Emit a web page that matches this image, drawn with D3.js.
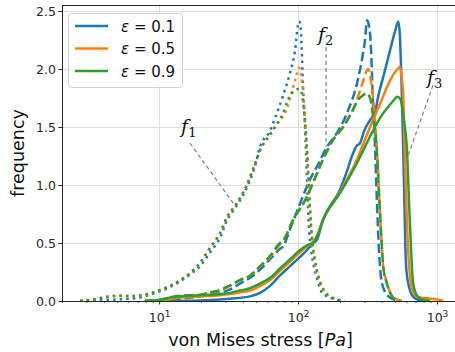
<!DOCTYPE html>
<html>
<head>
<meta charset="utf-8">
<script src="https://cdnjs.cloudflare.com/ajax/libs/d3/7.8.5/d3.min.js"></script>
<style>
  body { margin: 0; background: #fff; }
  svg { display: block; font-family: "DejaVu Sans", sans-serif; }
</style>
</head>
<body>
<svg id="chart" width="455" height="352"></svg>
<script>
// categories / ticks
const epsLabels = ["0.1", "0.5", "0.9"];
const colors = ["#1f77b4", "#ff7f0e", "#2ca02c"];
const yTicks = [0, 0.5, 1.0, 1.5, 2.0, 2.5];
const xTicks = [10, 100, 1000];
const xTickExp = ["1", "2", "3"];

// f1 (dotted) : [stress Pa, frequency]
const f1Eps01 = [[2.7,0],[3.2,0.005],[3.8,0.01],[4.4,0.01],[5.2,0.015],[6.2,0.02],[7.3,0.03],[8.6,0.055],[10.2,0.085],[12,0.12],[14.2,0.17],[16.7,0.23],[19.7,0.3],[23.3,0.42],[27.5,0.55],[30.9,0.7],[35.2,0.8],[42.8,0.98],[48.9,1.16],[53.3,1.33],[62.9,1.47],[68.4,1.58],[78,1.77],[87.6,1.97],[95.1,2.16],[99.9,2.38],[101.6,2.41],[104,2.39],[106,2.2],[108.6,1.85],[112.2,1.5],[116,1.05],[119,0.7],[124,0.45],[130,0.3],[139,0.17],[149,0.07],[170,0.03],[200,0]];
const f1Eps05 = [[2.7,0],[3.2,0.01],[3.8,0.025],[4.4,0.04],[5.2,0.045],[6.2,0.042],[7.3,0.045],[8.6,0.065],[10.2,0.095],[12,0.13],[14.2,0.18],[16.7,0.24],[19.7,0.33],[23.3,0.46],[27.5,0.58],[30.9,0.72],[35.2,0.82],[42.8,1.0],[48.9,1.18],[53.3,1.3],[62.9,1.43],[70,1.52],[76.7,1.58],[84.3,1.68],[90,1.8],[96.7,1.93],[101.6,2.01],[104,1.98],[108.6,1.8],[112,1.6],[116,1.3],[119,1.0],[122,0.75],[126,0.5],[132,0.32],[141,0.18],[154,0.08],[176,0.03],[217,0]];
const f1Eps09 = [[2.7,0],[3.2,0.01],[3.8,0.025],[4.4,0.04],[5.2,0.045],[6.2,0.042],[7.3,0.047],[8.6,0.066],[10.2,0.095],[12,0.13],[14.2,0.18],[16.7,0.24],[19.7,0.33],[23.3,0.46],[27.5,0.59],[30.9,0.73],[35.2,0.82],[42.8,1.0],[48.9,1.18],[53.3,1.3],[62.9,1.44],[70,1.52],[76.7,1.6],[84.3,1.73],[90,1.79],[96.7,1.82],[101.6,1.83],[104,1.82],[108.6,1.72],[112,1.55],[116,1.3],[119,1.05],[122,0.8],[126,0.55],[132,0.36],[141,0.2],[154,0.09],[176,0.03],[217,0]];

// f2 (dashed)
const f2Eps01 = [[7.9,0],[10.2,0.005],[14.2,0.02],[19.7,0.04],[27.5,0.07],[32.4,0.1],[38.2,0.15],[45.2,0.2],[53.3,0.27],[62.9,0.36],[74.2,0.45],[78,0.47],[87.6,0.62],[103.4,0.84],[122,1.05],[137,1.16],[161.7,1.33],[190.7,1.45],[225,1.62],[265.8,1.88],[290,2.1],[303.4,2.25],[313.6,2.42],[320,2.4],[329.6,2.31],[339,2.02],[345.5,1.73],[352,1.55],[358,1.33],[368.5,0.9],[381,0.47],[389,0.29],[409,0.12],[459,0.03],[542,0]];
const f2Eps05 = [[7.9,0],[10.2,0.01],[12,0.03],[14.2,0.04],[19.7,0.05],[23.3,0.07],[27.5,0.09],[32.4,0.13],[38.2,0.18],[45.2,0.22],[53.3,0.3],[62.9,0.38],[74.2,0.49],[78,0.52],[92.1,0.7],[116,0.9],[128.2,1.02],[151.3,1.22],[178.6,1.39],[210.7,1.5],[236.6,1.6],[248.7,1.65],[270,1.76],[295,1.9],[319,2.0],[339,1.85],[368.5,1.33],[389,0.76],[411,0.29],[436,0.16],[483,0.03],[560,0]];
const f2Eps09 = [[7.9,0],[10.2,0.01],[12,0.03],[14.2,0.045],[19.7,0.055],[23.3,0.075],[27.5,0.095],[32.4,0.135],[38.2,0.18],[45.2,0.22],[53.3,0.3],[62.9,0.39],[74.2,0.5],[78,0.52],[92.1,0.7],[116,0.9],[128.2,1.02],[151.3,1.22],[178.6,1.39],[210.7,1.5],[236.6,1.6],[248.7,1.65],[266,1.72],[290,1.77],[313.6,1.79],[329.6,1.75],[346,1.6],[368.5,1.3],[389,0.76],[411,0.29],[436,0.15],[483,0.03],[540,0]];

// f3 (solid)
const f3Eps01 = [[10.2,0],[19.7,0.005],[32.4,0.02],[45.2,0.04],[53.3,0.07],[62.9,0.13],[74.2,0.22],[87.6,0.3],[103.4,0.38],[116,0.44],[122,0.47],[128.2,0.5],[137,0.53],[151.3,0.7],[200.4,0.96],[225,1.12],[250,1.28],[265.8,1.34],[279,1.36],[300,1.47],[330,1.56],[358,1.63],[380,1.78],[410,1.93],[459,2.16],[500,2.33],[527,2.41],[540,2.3],[560,1.73],[579,1.0],[599,0.3],[629,0.12],[661,0.05],[730,0.01],[800,0]];
const f3Eps05 = [[7.9,0],[10.2,0.005],[14.2,0.03],[19.7,0.04],[27.5,0.05],[32.4,0.06],[38.2,0.075],[45.2,0.09],[53.3,0.13],[62.9,0.18],[74.2,0.26],[87.6,0.34],[103.4,0.42],[116,0.47],[128.2,0.51],[137,0.56],[151.3,0.7],[200.4,0.94],[265.8,1.22],[329.6,1.5],[358,1.6],[389,1.7],[459,1.9],[520,2.0],[542,2.02],[560,1.9],[570,1.8],[589,1.2],[619,0.45],[650,0.15],[695,0.05],[760,0.03],[900,0.02],[1051,0.01],[1105,0]];
const f3Eps09 = [[7.9,0],[10.2,0.01],[12,0.03],[14.2,0.04],[19.7,0.05],[27.5,0.06],[32.4,0.07],[38.2,0.09],[45.2,0.11],[53.3,0.15],[62.9,0.2],[74.2,0.28],[87.6,0.36],[103.4,0.44],[116,0.48],[128.2,0.5],[137,0.56],[151.3,0.7],[200.4,0.93],[265.8,1.19],[347,1.47],[400,1.6],[436,1.66],[480,1.72],[520,1.76],[545,1.74],[579,1.55],[608,1.3],[629,0.85],[650,0.45],[672,0.16],[707,0.06],[755,0.02],[891,0]];

// annotation anchors in data coords: text, line start, line end
const annotations = [
  { sub: "1", text: [14.4, 1.45], from: [16.7, 1.36], to: [35.8, 0.81] },
  { sub: "2", text: [139, 2.24], from: [159, 2.19], to: [159, 1.33] },
  { sub: "3", text: [847, 1.87], from: [935, 1.86], to: [598, 1.2] }
];

const series = [
  { eps: 0, dash: "dotted", data: f1Eps01 },
  { eps: 0, dash: "dashed", data: f2Eps01 },
  { eps: 0, dash: "solid", data: f3Eps01 },
  { eps: 1, dash: "dotted", data: f1Eps05 },
  { eps: 1, dash: "dashed", data: f2Eps05 },
  { eps: 1, dash: "solid", data: f3Eps05 },
  { eps: 2, dash: "dotted", data: f1Eps09 },
  { eps: 2, dash: "dashed", data: f2Eps09 },
  { eps: 2, dash: "solid", data: f3Eps09 }
];

const dashes = { dotted: "2.5,4.1", dashed: "9.25,4", solid: null };

const LEFT = 62, RIGHT = 456, TOP = 5, BOTTOM = 301;
const svg = d3.select("#chart");

const x = d3.scaleLog().domain([2.0, 1370]).range([LEFT, RIGHT]);
const y = d3.scaleLinear().domain([0, 2.552]).range([BOTTOM, TOP]);

svg.append("defs").append("clipPath").attr("id", "plotClip")
  .append("rect")
  .attr("x", LEFT).attr("y", TOP)
  .attr("width", RIGHT - LEFT).attr("height", BOTTOM - TOP);

// grid
const grid = svg.append("g").attr("class", "grid")
  .attr("stroke", "#dedede").attr("stroke-width", 1);
grid.selectAll("line.gx").data(xTicks).join("line")
  .attr("x1", d => Math.round(x(d)) + 0.5).attr("x2", d => Math.round(x(d)) + 0.5)
  .attr("y1", TOP).attr("y2", BOTTOM);
grid.selectAll("line.gy").data(yTicks).join("line")
  .attr("y1", d => Math.round(y(d)) + 0.5).attr("y2", d => Math.round(y(d)) + 0.5)
  .attr("x1", LEFT).attr("x2", RIGHT);

// curves
const line = d3.line()
  .x(d => x(d[0]))
  .y(d => y(d[1]))
  .curve(d3.curveMonotoneX);

svg.append("g").attr("clip-path", "url(#plotClip)")
  .selectAll("path").data(series).join("path")
  .attr("d", d => line(d.data))
  .attr("fill", "none")
  .attr("stroke", d => colors[d.eps])
  .attr("stroke-width", 2.5)
  .attr("stroke-dasharray", d => dashes[d.dash]);

// annotations
const ann = svg.append("g").attr("class", "annotations");
ann.selectAll("line").data(annotations).join("line")
  .attr("x1", d => x(d.from[0])).attr("y1", d => y(d.from[1]))
  .attr("x2", d => x(d.to[0])).attr("y2", d => y(d.to[1]))
  .attr("stroke", "#808080").attr("stroke-width", 1.2)
  .attr("stroke-dasharray", "4,3");
const annText = ann.selectAll("text").data(annotations).join("text")
  .attr("x", d => x(d.text[0])).attr("y", d => y(d.text[1]))
  .attr("font-family", "'DejaVu Serif', serif")
  .attr("font-size", 19).attr("fill", "#111");
annText.append("tspan").attr("font-style", "italic").text("f");
annText.append("tspan").attr("dy", 4).attr("font-size", 13).text(d => d.sub);

// axes
const yAxis = d3.axisLeft(y).tickValues(yTicks).tickFormat(d3.format(".1f")).tickSize(3.5);
const gy = svg.append("g").attr("transform", `translate(${LEFT},0)`).call(yAxis);
gy.select(".domain").remove();
gy.selectAll("text").attr("font-size", 12.5).attr("fill", "#262626").attr("x", -6)
  .attr("font-family", "'DejaVu Sans', sans-serif");
gy.selectAll("line").attr("stroke", "#262626");

const minorTicks = [];
[1, 10, 100, 1000].forEach(b => {
  for (let k = 2; k <= 9; k++) {
    const v = b * k;
    if (v >= x.domain()[0] && v <= x.domain()[1]) minorTicks.push(v);
  }
});
const gxMinor = svg.append("g").attr("transform", `translate(0,${BOTTOM})`)
  .call(d3.axisBottom(x).tickValues(minorTicks).tickFormat("").tickSize(2));
gxMinor.select(".domain").remove();
gxMinor.selectAll("line").attr("stroke", "#262626").attr("stroke-width", 0.8);

const gx = svg.append("g").attr("transform", `translate(0,${BOTTOM})`)
  .call(d3.axisBottom(x).tickValues(xTicks).tickFormat("").tickSize(3.5));
gx.select(".domain").remove();
gx.selectAll("line").attr("stroke", "#262626");
const xLab = gx.selectAll(".tick").append("text")
  .attr("y", 21).attr("text-anchor", "middle")
  .attr("fill", "#262626").attr("font-size", 12.5)
  .attr("font-family", "'DejaVu Sans', sans-serif");
xLab.append("tspan").text("10");
xLab.append("tspan").attr("dy", -5).attr("font-size", 9).text((d, i) => xTickExp[i]);

// spines
svg.append("rect")
  .attr("x", LEFT + 0.5).attr("y", TOP + 0.5)
  .attr("width", RIGHT - LEFT).attr("height", BOTTOM - TOP)
  .attr("fill", "none").attr("stroke", "#262626").attr("stroke-width", 1);

// axis labels
const xTitle = svg.append("text")
  .attr("x", (LEFT + 455) / 2 + 2).attr("y", 346)
  .attr("text-anchor", "middle").attr("font-size", 17.5).attr("fill", "#111");
xTitle.append("tspan").text("von Mises stress [");
xTitle.append("tspan").attr("font-style", "italic").text("Pa");
xTitle.append("tspan").text("]");

svg.append("text")
  .attr("transform", `translate(24,${(TOP + BOTTOM) / 2}) rotate(-90)`)
  .attr("text-anchor", "middle").attr("font-size", 17.5).attr("fill", "#111")
  .text("frequency");

// legend
const legend = svg.append("g").attr("class", "legend");
legend.append("rect")
  .attr("x", 68.5).attr("y", 13.5).attr("width", 114).attr("height", 74)
  .attr("rx", 3).attr("fill", "#fff").attr("fill-opacity", 0.8)
  .attr("stroke", "#d0d0d0").attr("stroke-width", 1);
const items = legend.selectAll("g.item").data(epsLabels).join("g")
  .attr("class", "item")
  .attr("transform", (d, i) => `translate(0,${26 + i * 22.5})`);
items.append("line")
  .attr("x1", 75).attr("x2", 108).attr("y1", 0).attr("y2", 0)
  .attr("stroke", (d, i) => colors[i]).attr("stroke-width", 2.5);
const lt = items.append("text")
  .attr("x", 121).attr("y", 5.5)
  .attr("font-size", 15).attr("fill", "#111");
lt.append("tspan").attr("font-style", "italic").text("ε");
lt.append("tspan").text(d => " = " + d);
</script>
</body>
</html>
